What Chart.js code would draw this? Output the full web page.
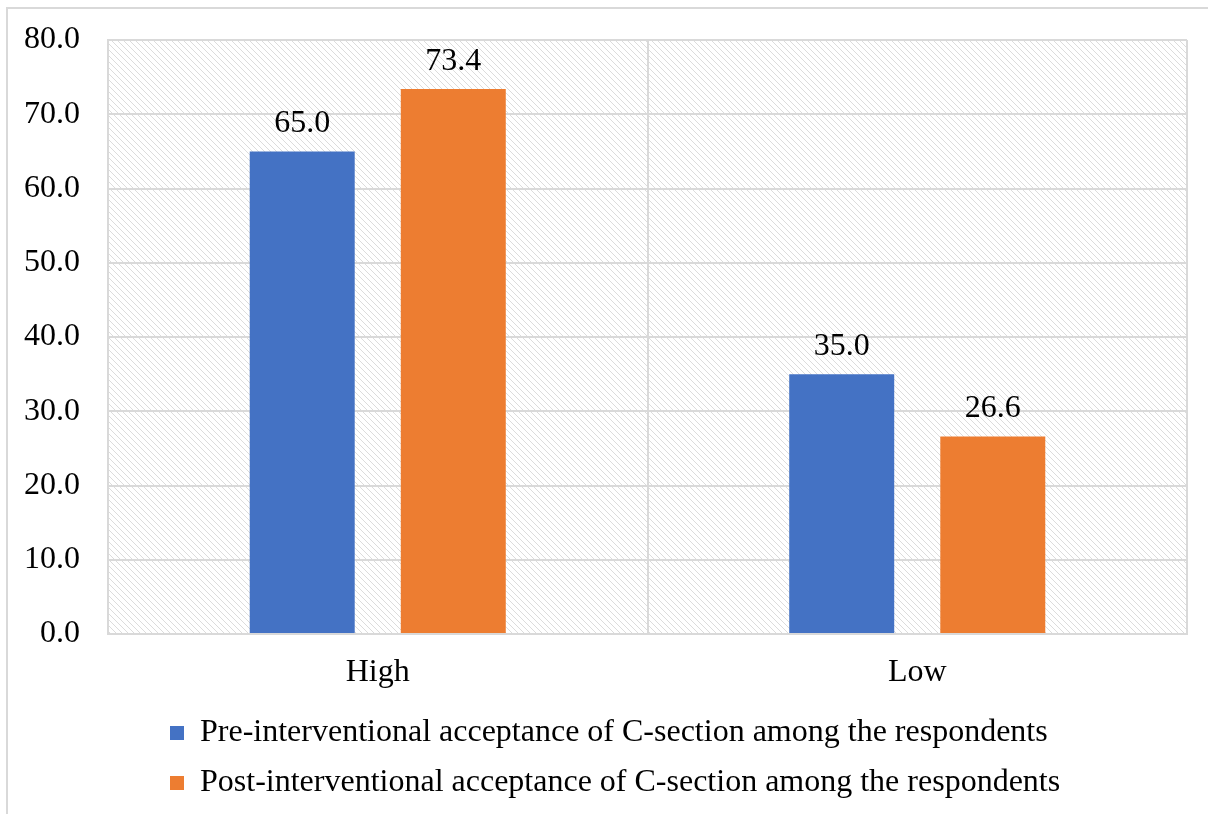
<!DOCTYPE html>
<html>
<head>
<meta charset="utf-8">
<script src="https://cdn.jsdelivr.net/npm/chart.js@4"></script>
<style>
  html, body { margin: 0; padding: 0; background: #fff; }
  #frame {
    position: absolute; left: 6px; top: 7px;
    width: 1202px; height: 807px;
    border-left: 2px solid #d9d9d9; border-top: 2px solid #d9d9d9;
  }
  #chartCanvas { display: block; }
</style>
</head>
<body>
<div id="frame"><canvas id="chartCanvas" width="1200" height="805"></canvas></div>
<script>
const categories = ['High', 'Low'];
const preValues = [65.0, 35.0];
const postValues = [73.4, 26.6];
const seriesLabels = [
  'Pre-interventional acceptance of C-section among the respondents',
  'Post-interventional acceptance of C-section among the respondents'
];
const yTicks = [0, 10, 20, 30, 40, 50, 60, 70, 80];

const FONT = 'Liberation Serif, "Times New Roman", serif';
const FONT_SIZE = 32;
const GRID = '#d9d9d9';

function hatchPattern(ctx) {
  const c = document.createElement('canvas');
  c.width = 6; c.height = 6;
  const p = c.getContext('2d');
  p.strokeStyle = '#dcdcdc';
  p.lineWidth = 1;
  p.beginPath();
  p.moveTo(0, 0); p.lineTo(6, 6);
  p.moveTo(-1, 5); p.lineTo(1, 7);
  p.moveTo(5, -1); p.lineTo(7, 1);
  p.stroke();
  return ctx.createPattern(c, 'repeat');
}

const hatchBackground = {
  id: 'hatchBackground',
  beforeDraw(chart) {
    const { ctx, chartArea: a } = chart;
    ctx.save();
    ctx.fillStyle = hatchPattern(ctx);
    ctx.fillRect(a.left, a.top, a.right - a.left, a.bottom - a.top);
    ctx.restore();
  }
};

const valueLabels = {
  id: 'valueLabels',
  afterDatasetsDraw(chart) {
    const ctx = chart.ctx;
    ctx.save();
    ctx.font = FONT_SIZE + 'px ' + FONT;
    ctx.fillStyle = '#000';
    ctx.textAlign = 'center';
    ctx.textBaseline = 'alphabetic';
    chart.data.datasets.forEach((ds, i) => {
      chart.getDatasetMeta(i).data.forEach((bar, j) => {
        ctx.fillText(ds.data[j].toFixed(1), bar.x, bar.y - 19);
      });
    });
    ctx.restore();
  }
};

// legend entries sit left-aligned in a block, like the office chart
const legendShift = {
  id: 'legendShift',
  afterLayout(chart) {
    const lg = chart.legend;
    const w = lg.right - lg.left;
    lg.left = 144;
    lg.right = lg.left + w;
  }
};

new Chart(document.getElementById('chartCanvas').getContext('2d'), {
  type: 'bar',
  data: {
    labels: categories,
    datasets: [
      { label: seriesLabels[0], data: preValues, backgroundColor: '#4472C4' },
      { label: seriesLabels[1], data: postValues, backgroundColor: '#ED7D31' }
    ]
  },
  options: {
    responsive: false,
    animation: false,
    categoryPercentage: 0.56,
    barPercentage: 0.695,
    layout: { padding: { top: 31, right: 21, left: 0, bottom: 5 } },
    plugins: {
      tooltip: { enabled: false },
      legend: {
        position: 'bottom',
        align: 'start',
        labels: {
          color: '#000',
          font: { family: FONT, size: FONT_SIZE },
          boxWidth: 14,
          boxHeight: 14,
          padding: 18
        }
      }
    },
    scales: {
      x: {
        grid: { color: GRID, lineWidth: 2, drawTicks: false },
        border: { color: GRID, width: 2 },
        ticks: { color: '#000', font: { family: FONT, size: FONT_SIZE }, padding: 19 },
        afterFit(s) { s.height = 65; }
      },
      y: {
        min: 0, max: 80,
        afterBuildTicks(s) { s.ticks = yTicks.map(v => ({ value: v })); },
        grid: { color: GRID, lineWidth: 2, drawTicks: false },
        border: { color: GRID, width: 2 },
        ticks: {
          color: '#000', font: { family: FONT, size: FONT_SIZE }, padding: 28,
          callback: v => Number(v).toFixed(1)
        },
        afterFit(s) { s.width = 100; s.paddingTop = 0; s.paddingBottom = 0; }
      }
    }
  },
  plugins: [hatchBackground, valueLabels, legendShift]
});
</script>
</body>
</html>
